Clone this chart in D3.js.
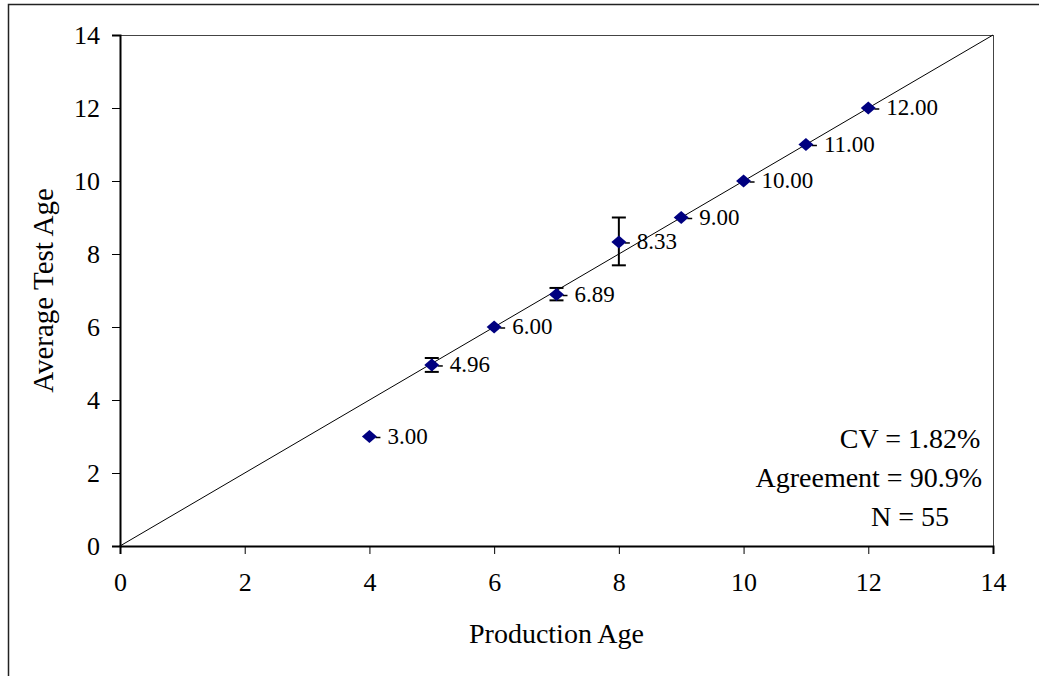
<!DOCTYPE html>
<html><head><meta charset="utf-8">
<script src="https://cdn.jsdelivr.net/npm/d3@7"></script>
<style>body{margin:0;background:#fff}svg text{font-family:"Liberation Serif","Times New Roman",serif;fill:#000}</style>
</head><body><svg id="c" width="1039" height="676"></svg>
<script>
const productionAge = [4,5,6,7,8,9,10,11,12];
const avgTestAge = [3.00,4.96,6.00,6.89,8.33,9.00,10.00,11.00,12.00];
const errLow = [0,0.19,0,0.16,0.64,0,0,0,0];
const errHigh = [0,0.19,0,0.18,0.67,0,0,0,0];
const pointLabels = ["3.00","4.96","6.00","6.89","8.33","9.00","10.00","11.00","12.00"];
const tickValues = [0,2,4,6,8,10,12,14];
const statLines = ["CV = 1.82%","Agreement = 90.9%","N = 55"];

const svg = d3.select("#c");
svg.append("rect").attr("x",8.5).attr("y",4.5).attr("width",1200).attr("height",900)
  .attr("fill","none").attr("stroke","#222").attr("stroke-width",1.5);

const L=120,R=993,T=35,B=546;
const x = d3.scaleLinear().domain([0,14]).range([L,R]);
const y = d3.scaleLinear().domain([0,14]).range([B,T]);

svg.append("line").attr("x1",L).attr("x2",R).attr("y1",T+0.5).attr("y2",T+0.5).attr("stroke","#444").attr("stroke-width",1);
svg.append("line").attr("x1",R+0.5).attr("x2",R+0.5).attr("y1",T).attr("y2",B).attr("stroke","#444").attr("stroke-width",1);

const xAxis = d3.axisBottom(x).tickValues(tickValues).tickSize(8).tickPadding(12).tickFormat(d3.format("d"));
const yAxis = d3.axisLeft(y).tickValues(tickValues).tickSize(8).tickPadding(12).tickFormat(d3.format("d"));
const gx = svg.append("g").attr("transform",`translate(0,${B})`).call(xAxis);
const gy = svg.append("g").attr("transform",`translate(${L},0)`).call(yAxis);
[gx,gy].forEach(g=>{
  g.select(".domain").attr("stroke","#000").attr("stroke-width",2);
  g.selectAll(".tick line").attr("stroke","#000").attr("stroke-width",1);
  g.selectAll(".tick text").attr("font-size",26).attr("font-family","Liberation Serif").attr("fill","#000");
});
gy.selectAll(".tick text").attr("dy","0.33em").attr("x",-20);
gx.selectAll(".tick text").attr("dy","0.72em").attr("y",26);

svg.append("line").attr("x1",x(0)).attr("y1",y(0)).attr("x2",x(14)).attr("y2",y(14))
  .attr("stroke","#000").attr("stroke-width",1);

const pts = productionAge.map((d,i)=>({x:d,y:avgTestAge[i],lo:errLow[i],hi:errHigh[i],lab:pointLabels[i]}));

const eb = svg.append("g").selectAll("g").data(pts.filter(p=>p.lo>0||p.hi>0)).join("g");
eb.append("line").attr("x1",d=>x(d.x)).attr("x2",d=>x(d.x)).attr("y1",d=>y(d.y-d.lo)).attr("y2",d=>y(d.y+d.hi)).attr("stroke","#000").attr("stroke-width",2);
eb.append("line").attr("x1",d=>x(d.x)-7).attr("x2",d=>x(d.x)+7).attr("y1",d=>y(d.y+d.hi)).attr("y2",d=>y(d.y+d.hi)).attr("stroke","#000").attr("stroke-width",2);
eb.append("line").attr("x1",d=>x(d.x)-7).attr("x2",d=>x(d.x)+7).attr("y1",d=>y(d.y-d.lo)).attr("y2",d=>y(d.y-d.lo)).attr("stroke","#000").attr("stroke-width",2);

svg.append("g").selectAll("line").data(pts).join("line")
  .attr("x1",d=>x(d.x)+6).attr("x2",d=>x(d.x)+11).attr("y1",d=>y(d.y)+1).attr("y2",d=>y(d.y)+1)
  .attr("stroke","#000").attr("stroke-width",1.5);

svg.append("g").selectAll("path").data(pts).join("path")
  .attr("d",d=>{const cx=x(d.x),cy=y(d.y);return `M${cx},${cy-6.5}L${cx+7.5},${cy}L${cx},${cy+6.5}L${cx-7.5},${cy}Z`;})
  .attr("fill","#000080");

svg.append("g").selectAll("text").data(pts).join("text")
  .attr("x",d=>x(d.x)+18).attr("y",d=>y(d.y)+7)
  .attr("font-size",23).text(d=>d.lab);

svg.append("text").attr("x",(L+R)/2).attr("y",643).attr("text-anchor","middle").attr("font-size",28).text("Production Age");
svg.append("text").attr("transform",`translate(53,${(T+B)/2}) rotate(-90)`).attr("text-anchor","middle").attr("font-size",29).text("Average Test Age");

svg.append("text").attr("x",910).attr("y",448).attr("text-anchor","middle").attr("font-size",28).text(statLines[0]);
svg.append("text").attr("x",982).attr("y",487).attr("text-anchor","end").attr("font-size",28).text(statLines[1]);
svg.append("text").attr("x",910).attr("y",526).attr("text-anchor","middle").attr("font-size",28).text(statLines[2]);
</script></body></html>
